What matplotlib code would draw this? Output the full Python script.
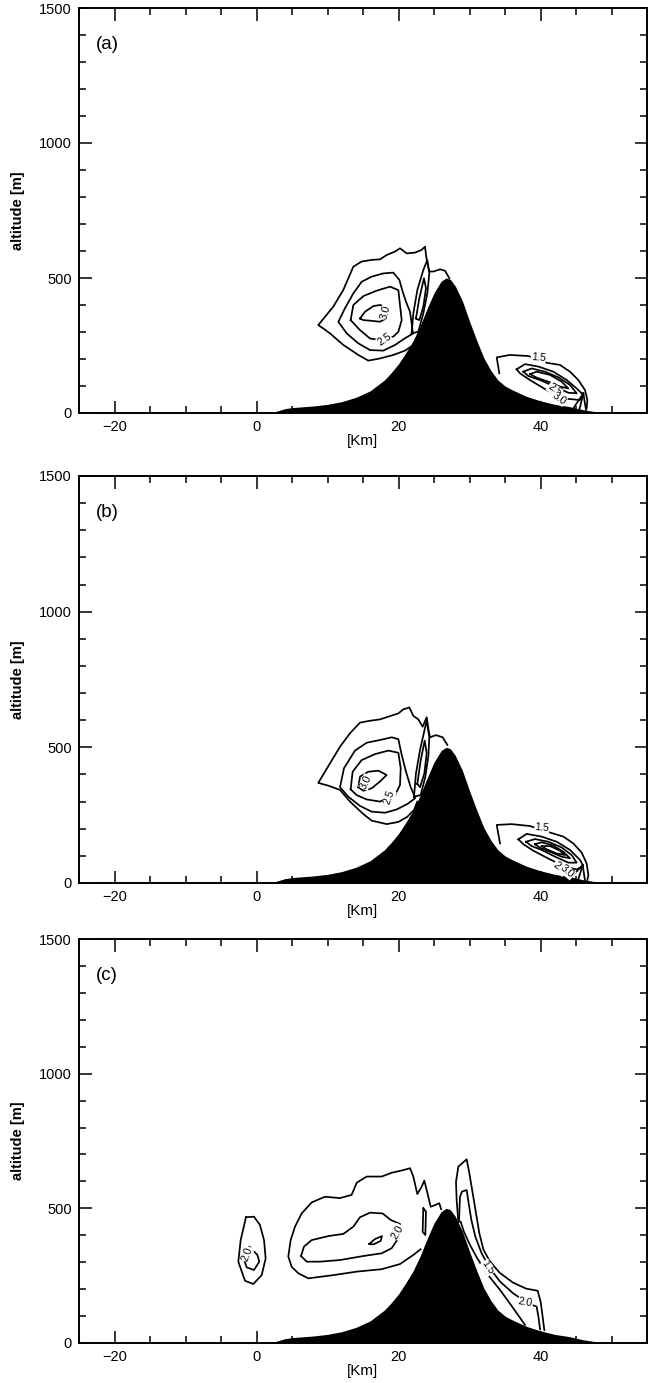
import numpy as np
import matplotlib
matplotlib.use("Agg")
import matplotlib.pyplot as plt
from matplotlib.ticker import MultipleLocator

plt.rcParams['font.family'] = ['Liberation Sans', 'DejaVu Sans']

# ---------------- data ----------------
terrain_km = [1.8, 3, 4, 5, 6, 8, 10, 12, 14, 16, 18, 19, 20, 21, 22, 23, 24, 25, 26,
              26.7, 27.3, 28, 29, 30, 31, 32, 33, 34, 35, 36, 37, 38, 40, 42, 44, 46, 48, 49]
terrain_alt = [0, 8, 16, 20, 22, 26, 32, 42, 58, 82, 122, 150, 182, 222, 265, 320, 385, 445, 488,
               500, 495, 470, 415, 340, 270, 205, 158, 122, 100, 86, 74, 62, 45, 32, 24, 12, 4, 0]

x_ticks = [-20, 0, 20, 40]
y_ticks = [0, 500, 1000, 1500]
panel_tags = ['(a)', '(b)', '(c)']

# ---- panel (a) isolines (km, m) ----
a_c15 = [(22.56, 277), (22.09, 252), (20.92, 231), (19.27, 215), (17.39, 202), (15.75, 194),
         (14.34, 215), (12.23, 252), (10.35, 295), (8.71, 326), (10.82, 394), (12.23, 456),
         (13.64, 542), (14.81, 561), (16.22, 567), (17.39, 569), (18.33, 585), (19.51, 598),
         (20.21, 610), (21.15, 591), (22.32, 594), (23.26, 604), (23.73, 616), (23.97, 567),
         (24.34, 524), (24.91, 524), (25.85, 532), (26.55, 527), (27.16, 499)]
a_c20 = [(22.09, 295), (20.92, 277), (19.51, 252), (17.86, 231), (15.99, 233), (14.34, 258),
         (12.70, 295), (11.53, 338), (12.46, 388), (13.64, 443), (14.81, 486), (16.22, 505),
         (17.86, 517), (19.27, 520), (20.12, 493), (20.59, 449), (21.06, 412), (21.62, 375),
         (21.85, 332), (22.0, 300)]
a_c25 = [(13.26, 344), (13.64, 400), (15.05, 433), (16.92, 453), (18.80, 468), (19.98, 455),
         (20.21, 400), (20.45, 344), (19.98, 301), (19.27, 283), (17.39, 270), (15.99, 276),
         (14.58, 307)]
a_c30 = [(14.58, 350), (15.28, 375), (16.46, 396), (17.39, 400), (18.10, 394), (18.43, 375),
         (18.24, 350), (17.39, 338), (15.99, 342), (15.05, 344)]
a_nA = [(21.85, 295), (22.09, 369), (22.65, 455), (23.50, 530), (24.06, 567), (24.34, 517),
        (24.06, 443), (23.50, 369), (22.79, 301)]
a_nB = [(22.46, 350), (22.93, 425), (23.59, 499), (23.87, 462), (23.50, 394), (22.93, 344)]
a_r15 = [(34.20, 147), (33.83, 206), (35.70, 215), (38.29, 211), (40.87, 186), (42.75, 178),
         (44.15, 153), (45.33, 122), (46.27, 85), (46.60, 48), (46.50, 17)]
a_r20 = [(36.64, 162), (37.82, 181), (39.69, 172), (41.81, 153), (43.69, 122), (45.09, 91),
         (46.03, 67), (45.56, 48), (43.22, 54), (40.87, 85), (38.52, 122), (37.11, 147)]
a_r25 = [(37.58, 153), (38.76, 165), (40.63, 153), (42.51, 132), (44.15, 104), (45.09, 73),
         (43.92, 75), (42.04, 98), (39.93, 122), (38.29, 137)]
a_r30 = [(38.52, 144), (39.46, 153), (41.34, 141), (42.98, 116), (43.92, 91), (42.75, 98),
         (41.10, 116), (39.46, 131)]
a_t1 = [(46.03, 73), (44.62, 17)]
a_t2 = [(46.03, 73), (45.47, 11)]
a_t3 = [(46.03, 73), (46.41, 11)]
a_closed = [a_c25, a_c30, a_nA, a_nB, a_r20, a_r25, a_r30]
a_open = [a_c15, a_c20, a_r15, a_t1, a_t2, a_t3]
a_labels = [("3.0", 18.2, 372, 75), ("2.5", 18.0, 272, 35), ("1.5", 39.7, 206, -5),
            ("2.5", 42.0, 86, -35), ("3.0", 42.6, 54, -35)]

# ---- panel (b) isolines ----
b_c15 = [(22.65, 300), (22.18, 269), (21.24, 244), (19.98, 225), (18.33, 217), (16.22, 230),
         (15.05, 254), (13.17, 300), (11.76, 343), (10.2, 358), (8.7, 369), (10.35, 441),
         (11.76, 502), (13.17, 552), (14.58, 591), (15.99, 598), (17.39, 603), (18.80, 615),
         (19.98, 625), (20.68, 640), (21.53, 647), (22.09, 616), (22.79, 603), (23.40, 576),
         (23.97, 611), (24.25, 561), (24.44, 537), (25.28, 545), (26.22, 537), (26.88, 509)]
b_c20 = [(22.32, 312), (21.24, 291), (19.74, 271), (18.10, 259), (16.22, 263), (14.58, 284),
         (12.93, 318), (11.76, 353), (12.32, 423), (13.87, 488), (15.52, 517), (17.39, 527),
         (19.04, 537), (19.98, 530), (20.45, 472), (21.06, 410), (21.71, 353), (22.32, 318)]
b_c25 = [(13.26, 345), (13.54, 410), (14.81, 453), (16.69, 475), (18.57, 488), (19.98, 480),
         (20.31, 423), (20.21, 361), (19.51, 324), (17.39, 300), (15.52, 308), (14.11, 324)]
b_c30 = [(14.34, 353), (14.58, 392), (15.75, 410), (17.16, 414), (18.33, 398), (17.39, 374),
         (16.22, 349), (15.05, 340)]
b_nA = [(22.18, 318), (22.46, 404), (23.03, 490), (23.64, 561), (23.97, 598), (24.34, 537),
        (24.20, 466), (23.78, 392), (23.12, 324)]
b_nB = [(22.65, 365), (23.12, 451), (23.69, 525), (23.97, 478), (23.64, 404), (23.03, 353)]
b_r15 = [(34.30, 146), (33.83, 214), (35.94, 217), (38.52, 210), (41.34, 186), (43.22, 171),
         (44.62, 146), (45.80, 112), (46.50, 72), (46.74, 29), (46.60, 11)]
b_r1 = [(36.88, 161), (38.05, 181), (40.16, 171), (42.28, 152), (44.15, 122), (45.56, 85),
        (46.03, 63), (45.09, 50), (43.45, 60), (41.34, 87), (38.99, 119), (37.58, 143)]
b_r2 = [(37.96, 152), (39.22, 162), (41.10, 152), (42.98, 131), (44.39, 103), (45.09, 75),
        (43.92, 75), (42.04, 97), (40.16, 122), (38.76, 136)]
b_r3 = [(39.22, 143), (40.16, 150), (41.81, 138), (43.22, 115), (44.15, 91), (42.98, 97),
        (41.34, 115), (39.93, 130)]
b_r4 = [(40.16, 136), (41.34, 136), (42.75, 119), (43.45, 103), (42.28, 109), (40.87, 124)]
b_t1 = [(45.94, 66), (44.39, 23)]
b_t2 = [(45.94, 66), (45.33, 14)]
b_t3 = [(45.94, 66), (46.27, 9)]
b_closed = [b_c25, b_c30, b_nA, b_nB, b_r1, b_r2, b_r3, b_r4]
b_open = [b_c15, b_c20, b_r15, b_t1, b_t2, b_t3]
b_labels = [("3.0", 15.4, 372, 65), ("2.5", 18.7, 316, 70), ("1.5", 40.2, 204, -5),
            ("2.5", 42.7, 55, -40), ("3.0", 43.8, 42, -40)]

# ---- panel (c) isolines ----
c_m15 = [(23.12, 348), (22.09, 327), (20.21, 293), (17.63, 274), (14.11, 265), (10.82, 252),
         (7.30, 240), (5.89, 259), (4.95, 283), (4.48, 321), (4.81, 382), (5.42, 432),
         (6.36, 481), (7.77, 522), (9.65, 543), (11.76, 538), (13.40, 550), (14.11, 595),
         (15.52, 618), (17.63, 618), (19.04, 632), (20.68, 642), (21.62, 649), (22.09, 618),
         (22.65, 553), (23.26, 580), (23.64, 603), (24.20, 543), (24.53, 506), (25.14, 512),
         (25.75, 519), (26.0, 497)]
c_m20 = [(6.27, 323), (6.69, 358), (7.77, 382), (10.12, 397), (12.23, 405), (13.64, 432),
         (14.58, 467), (15.99, 484), (17.77, 481), (18.90, 457), (20.21, 442), (20.12, 395),
         (19.04, 352), (17.63, 333), (15.05, 323), (11.76, 308), (8.94, 302), (7.07, 302)]
c_m25 = [(15.89, 368), (16.69, 386), (17.68, 397), (17.49, 379), (16.46, 366)]
c_n = [(23.5, 500), (23.87, 488), (23.78, 401), (23.40, 413)]
c_l15 = [(-1.48, 467), (-0.35, 469), (0.49, 438), (1.06, 382), (1.29, 314), (0.73, 252),
         (-0.45, 219), (-1.62, 231), (-2.56, 302), (-2.23, 382)]
c_l20 = [(-1.95, 327), (-1.01, 358), (0.12, 327), (0.40, 302), (-0.36, 271), (-1.39, 281)]
c_R1 = [(28.43, 450), (28.19, 531), (28.10, 599), (28.43, 655), (29.60, 682), (29.98, 630),
        (30.45, 556), (30.92, 481), (31.39, 407), (31.95, 348), (32.79, 306), (34.20, 262),
        (36.08, 225), (37.96, 202), (39.60, 194), (40.02, 153), (40.30, 98), (40.54, 48)]
c_R2 = [(28.52, 450), (28.66, 543), (28.94, 562), (29.60, 568), (29.88, 519), (30.26, 457),
        (30.82, 395), (31.71, 333), (32.89, 277), (34.30, 228), (36.17, 184), (38.29, 147),
        (39.46, 135), (39.74, 92), (39.93, 51)]
c_R3 = [(28.76, 450), (29.22, 413), (30.07, 364), (31.10, 314), (32.42, 259), (34.30, 197),
        (36.17, 129), (37.82, 67)]
c_closed = [c_m20, c_m25, c_n, c_l15, c_l20]
c_open = [c_m15, c_R1, c_R2, c_R3]
c_labels = [("2.0", -1.3, 330, 70), ("2.0", 19.9, 412, 60), ("1.5", 32.6, 280, -55),
            ("2.0", 37.9, 150, -10)]

panels_closed = [a_closed, b_closed, c_closed]
panels_open = [a_open, b_open, c_open]
panels_labels = [a_labels, b_labels, c_labels]

# ---------------- figure ----------------
W, H = 656, 1383
fig = plt.figure(figsize=(W / 100, H / 100), dpi=100)
rects = [[79 / W, 1 - 413 / H, 568 / W, 405 / H],
         [79 / W, 1 - 883 / H, 568 / W, 407 / H],
         [79 / W, 1 - 1343 / H, 568 / W, 404 / H]]

for i, rect in enumerate(rects):
    ax = fig.add_axes(rect)
    ax.set_xlim(-25, 55)
    ax.set_ylim(0, 1500)
    ax.fill_between(terrain_km, 0, terrain_alt, color='black', lw=0, zorder=3)
    for line in panels_open[i]:
        arr = np.array(line, dtype=float)
        ax.plot(arr[:, 0], arr[:, 1], color='black', lw=1.25, zorder=2)
    for line in panels_closed[i]:
        arr = np.array(line + [line[0]], dtype=float)
        ax.plot(arr[:, 0], arr[:, 1], color='black', lw=1.25, zorder=2)
    for txt, lx, ly, rot in panels_labels[i]:
        ax.text(lx, ly, txt, fontsize=7.5, rotation=rot, ha='center', va='center',
                zorder=4, bbox=dict(fc='white', ec='none', pad=0.2))
    ax.set_xticks(x_ticks)
    ax.set_yticks(y_ticks)
    ax.xaxis.set_minor_locator(MultipleLocator(5))
    ax.yaxis.set_minor_locator(MultipleLocator(100))
    ax.tick_params(which='both', direction='in', top=True, right=True, width=1.1,
                   labelsize=10.5, color='black')
    ax.tick_params(which='major', length=9, pad=5)
    ax.tick_params(which='minor', length=5)
    ax.set_xticklabels(['\u221220', '0', '20', '40'])
    for s in ax.spines.values():
        s.set_linewidth(1.4)
    ax.set_xlabel('[Km]', fontsize=11, labelpad=0)
    ax.set_ylabel('altitude [m]', fontsize=10.5, fontweight='bold', labelpad=10)
    ax.text(0.03, 0.91, panel_tags[i], transform=ax.transAxes, fontsize=13.5,
            ha='left', va='center')

fig.savefig('out.png', dpi=100)
